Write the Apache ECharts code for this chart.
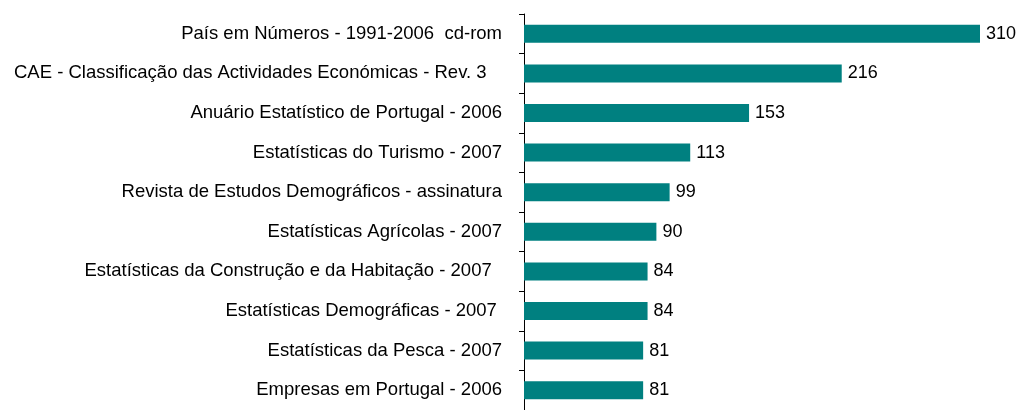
<!DOCTYPE html>
<html><head><meta charset="utf-8">
<script src="https://cdn.jsdelivr.net/npm/echarts@6/dist/echarts.min.js"></script>
<style>html,body{margin:0;padding:0;background:#fff}#c{width:1020px;height:410px}</style>
</head><body><div id="c"></div>
<script>
const categories = [
  "País em Números - 1991-2006  cd-rom",
  "CAE - Classificação das Actividades Económicas - Rev. 3   ",
  "Anuário Estatístico de Portugal - 2006",
  "Estatísticas do Turismo - 2007",
  "Revista de Estudos Demográficos - assinatura",
  "Estatísticas Agrícolas - 2007",
  "Estatísticas da Construção e da Habitação - 2007  ",
  "Estatísticas Demográficas - 2007 ",
  "Estatísticas da Pesca - 2007",
  "Empresas em Portugal - 2006"
];
const values = [310, 216, 153, 113, 99, 90, 84, 84, 81, 81];

const chart = echarts.init(document.getElementById('c'));
chart.setOption({
  animation: false,
  grid: { left: 524, right: 40, top: 14, bottom: -6, containLabel: false },
  xAxis: { type: 'value', min: 0, max: 310, show: false },
  yAxis: {
    type: 'category', data: categories, inverse: true,
    axisLine: { lineStyle: { color: '#000', width: 1 } },
    axisTick: { show: true, length: 5, lineStyle: { color: '#000' } },
    axisLabel: { color: '#000', fontFamily: 'Liberation Sans, Arial', fontSize: 18.5, margin: 22 }
  },
  series: [{
    type: 'bar', data: values, barWidth: 18,
    itemStyle: { color: '#008080' },
    label: { show: true, position: 'right', distance: 6, color: '#000', fontFamily: 'Liberation Sans, Arial', fontSize: 18 }
  }]
});
</script></body></html>
